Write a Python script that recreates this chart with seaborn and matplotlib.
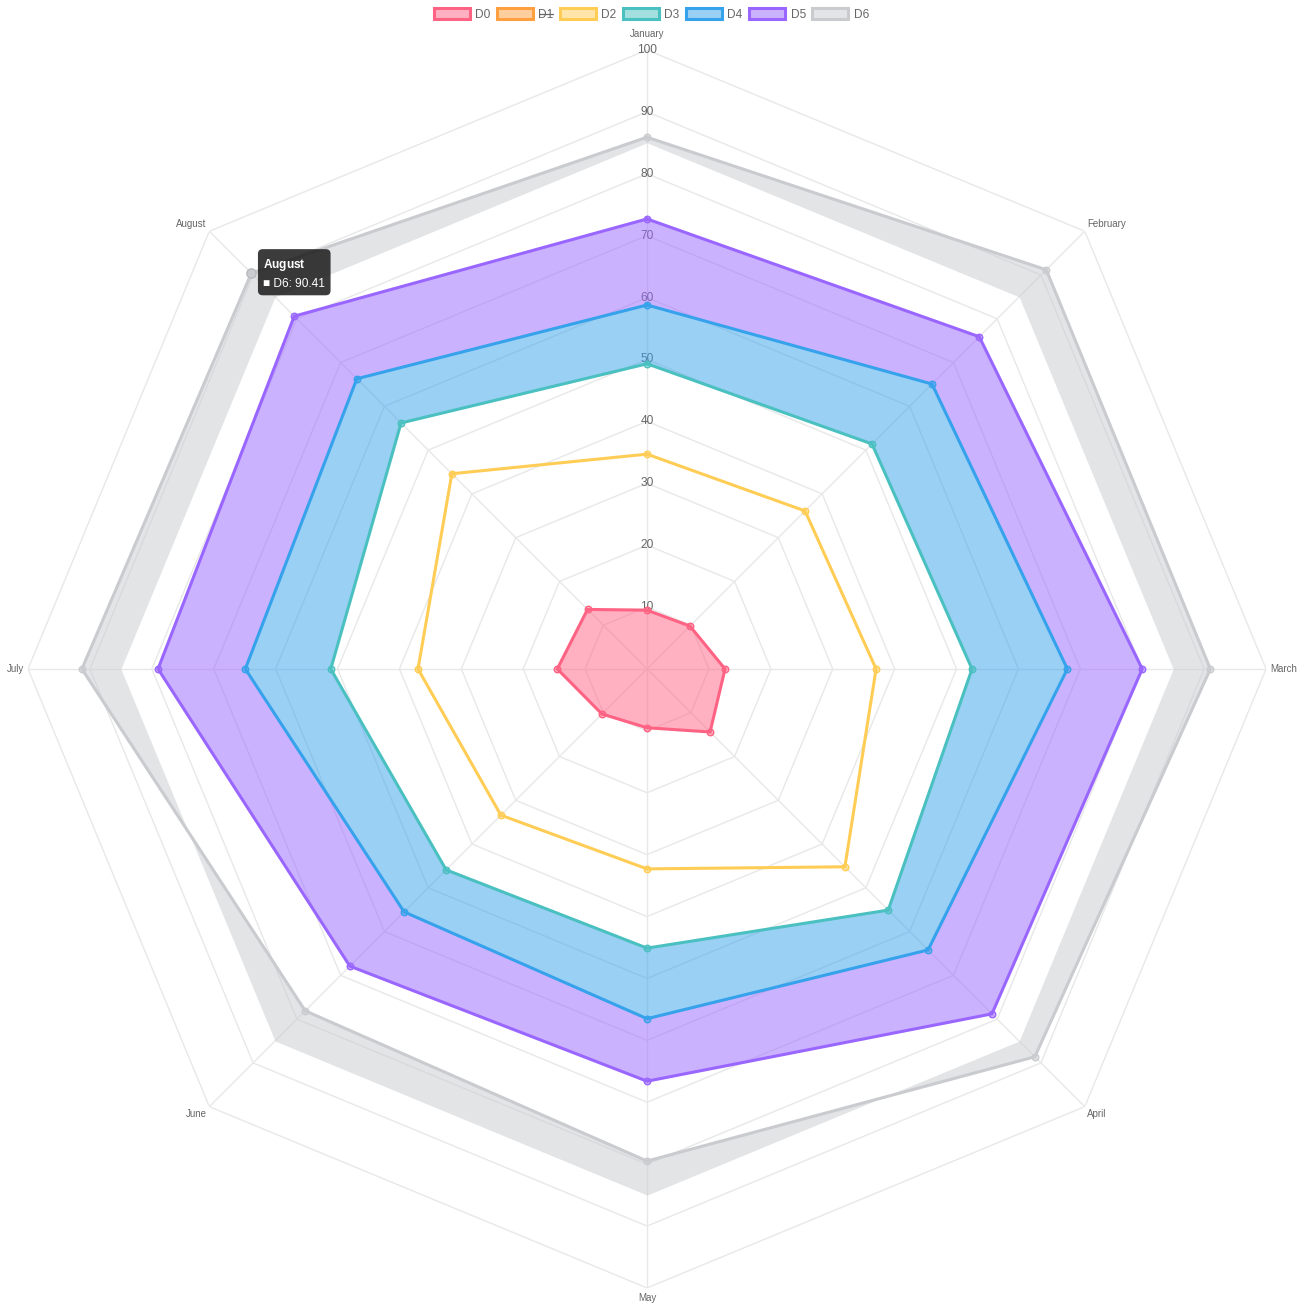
import numpy as np
import matplotlib
matplotlib.use('Agg')
import matplotlib.pyplot as plt
import seaborn as sns
from matplotlib.patches import Patch
from matplotlib.lines import Line2D

sns.set_theme(style='white')
plt.rcParams['font.family'] = ['Liberation Sans', 'DejaVu Sans']
plt.rcParams['mathtext.fontset'] = 'custom'
plt.rcParams['mathtext.bf'] = 'Liberation Sans:bold'

# data
months = ['January', 'February', 'March', 'April', 'May', 'June', 'July', 'August']
labels = ['D0', 'D1', 'D2', 'D3', 'D4', 'D5', 'D6']
d0 = [9.5, 9.8, 12.6, 14.4, 9.5, 10.3, 14.5, 13.6]
d2 = [34.7, 36.1, 37.0, 45.2, 32.3, 33.4, 37.0, 44.6]
d3 = [49.3, 51.4, 52.5, 55.1, 45.1, 45.9, 51.1, 56.2]
d4 = [58.8, 65.1, 67.9, 64.2, 56.5, 55.5, 64.9, 66.3]
d5 = [72.7, 75.9, 80.0, 78.8, 66.6, 67.9, 79.0, 80.6]
d6 = [85.9, 91.2, 91.0, 88.6, 79.5, 78.1, 91.3, 90.41]
d6_fill_value = 85
ticks = [10, 20, 30, 40, 50, 60, 70, 80, 90, 100]

colors = {'D0': '#ff6384', 'D1': '#ff9f40', 'D2': '#ffcd56', 'D3': '#4bc0c0',
          'D4': '#36a2eb', 'D5': '#9966ff', 'D6': '#c9cbcf'}

def closed(v):
    return np.append(v, v[0])

theta = np.deg2rad(np.arange(len(months)) * 360 / len(months))
tc = closed(theta)

fig = plt.figure(figsize=(13.04, 13.04), dpi=100)
ax = fig.add_axes([0.0215, 0.0123, 0.9494, 0.9494], projection='polar')
ax.set_theta_zero_location('N')
ax.set_theta_direction(-1)
ax.set_ylim(0, 100)
ax.grid(False)
ax.set_xticks([])
ax.set_yticks([])
ax.spines['polar'].set_visible(False)
ax.set_facecolor('none')

# polygon grid + angle lines
for v in ticks:
    ax.plot(tc, [v] * len(tc), color='#e8e8e8', lw=1, zorder=1)
for t in theta:
    ax.plot([t, t], [0, 100], color='#e8e8e8', lw=1, zorder=1)
for v in ticks:
    ax.text(0, v, str(v), ha='center', va='center', fontsize=8.6, color='#666666', zorder=1.5)

# point labels
align = [('center', 'bottom', 101.8), ('left', 'bottom', 100.6), ('left', 'center', 100.6),
         ('left', 'top', 100.6), ('center', 'top', 100.8), ('right', 'top', 100.6),
         ('right', 'center', 100.6), ('right', 'bottom', 100.6)]
for t, m, (ha, va, r) in zip(theta, months, align):
    ax.text(t, r, m, ha=ha, va=va, fontsize=7, color='#666666')

# fills
ax.fill_between(tc, closed(d6), d6_fill_value, color=colors['D6'], alpha=0.5, lw=0, zorder=2)
ax.fill_between(tc, closed(d4), closed(d5), color=colors['D5'], alpha=0.5, lw=0, zorder=3)
ax.fill_between(tc, closed(d3), closed(d4), color=colors['D4'], alpha=0.5, lw=0, zorder=4)
ax.fill(tc, closed(d0), color=colors['D0'], alpha=0.5, lw=0, zorder=6)

series = [('D6', d6, 2.5), ('D5', d5, 3.5), ('D4', d4, 4.5), ('D3', d3, 5),
          ('D2', d2, 5.2), ('D0', d0, 6.5)]
for name, vals, z in series:
    c = colors[name]
    ax.plot(tc, closed(vals), color=c, lw=2.2, zorder=z, solid_joinstyle='miter')
    ax.scatter(theta, vals, s=22, facecolor=matplotlib.colors.to_rgba(c, 0.5),
               edgecolor=c, linewidth=1, zorder=z + 0.05)

# hovered point
ax.scatter([theta[7]], [d6[7]], s=45, facecolor=colors['D6'], edgecolor='#b8babe',
           linewidth=1, zorder=8)

# tooltip
ax.annotate('$\\mathbf{August}$\n\u25a0 D6: 90.41', xy=(theta[7], d6[7]),
            xytext=(12, 0), textcoords='offset pixels', ha='left', va='center',
            fontsize=8.6, color='white', linespacing=1.6, zorder=10,
            bbox=dict(boxstyle='round,pad=0.45,rounding_size=0.4', fc='#1a1a1a',
                      ec='none', alpha=0.85))

# legend
handles = [Patch(facecolor=matplotlib.colors.to_rgba(colors[l], 0.5), edgecolor=colors[l],
                 linewidth=2.2) for l in labels]
leg = fig.legend(handles, labels, loc='upper center', bbox_to_anchor=(0.4996, 1.0),
                 ncol=7, frameon=False, fontsize=8.6, handlelength=3.0, handleheight=0.95,
                 handletextpad=0.45, columnspacing=0.55, borderaxespad=0.3)
for txt in leg.get_texts():
    txt.set_color('#666666')

# strike-through for the hidden D1
fig.canvas.draw()
bb = leg.get_texts()[1].get_window_extent()
ym = bb.y0 + 0.58 * bb.height
fig.add_artist(Line2D([(bb.x0 + 0.5) / fig.bbox.width, (bb.x1 - 1) / fig.bbox.width],
                      [ym / fig.bbox.height] * 2, color='#666666', lw=0.9))

fig.savefig('out.png', dpi=100, facecolor='white')
